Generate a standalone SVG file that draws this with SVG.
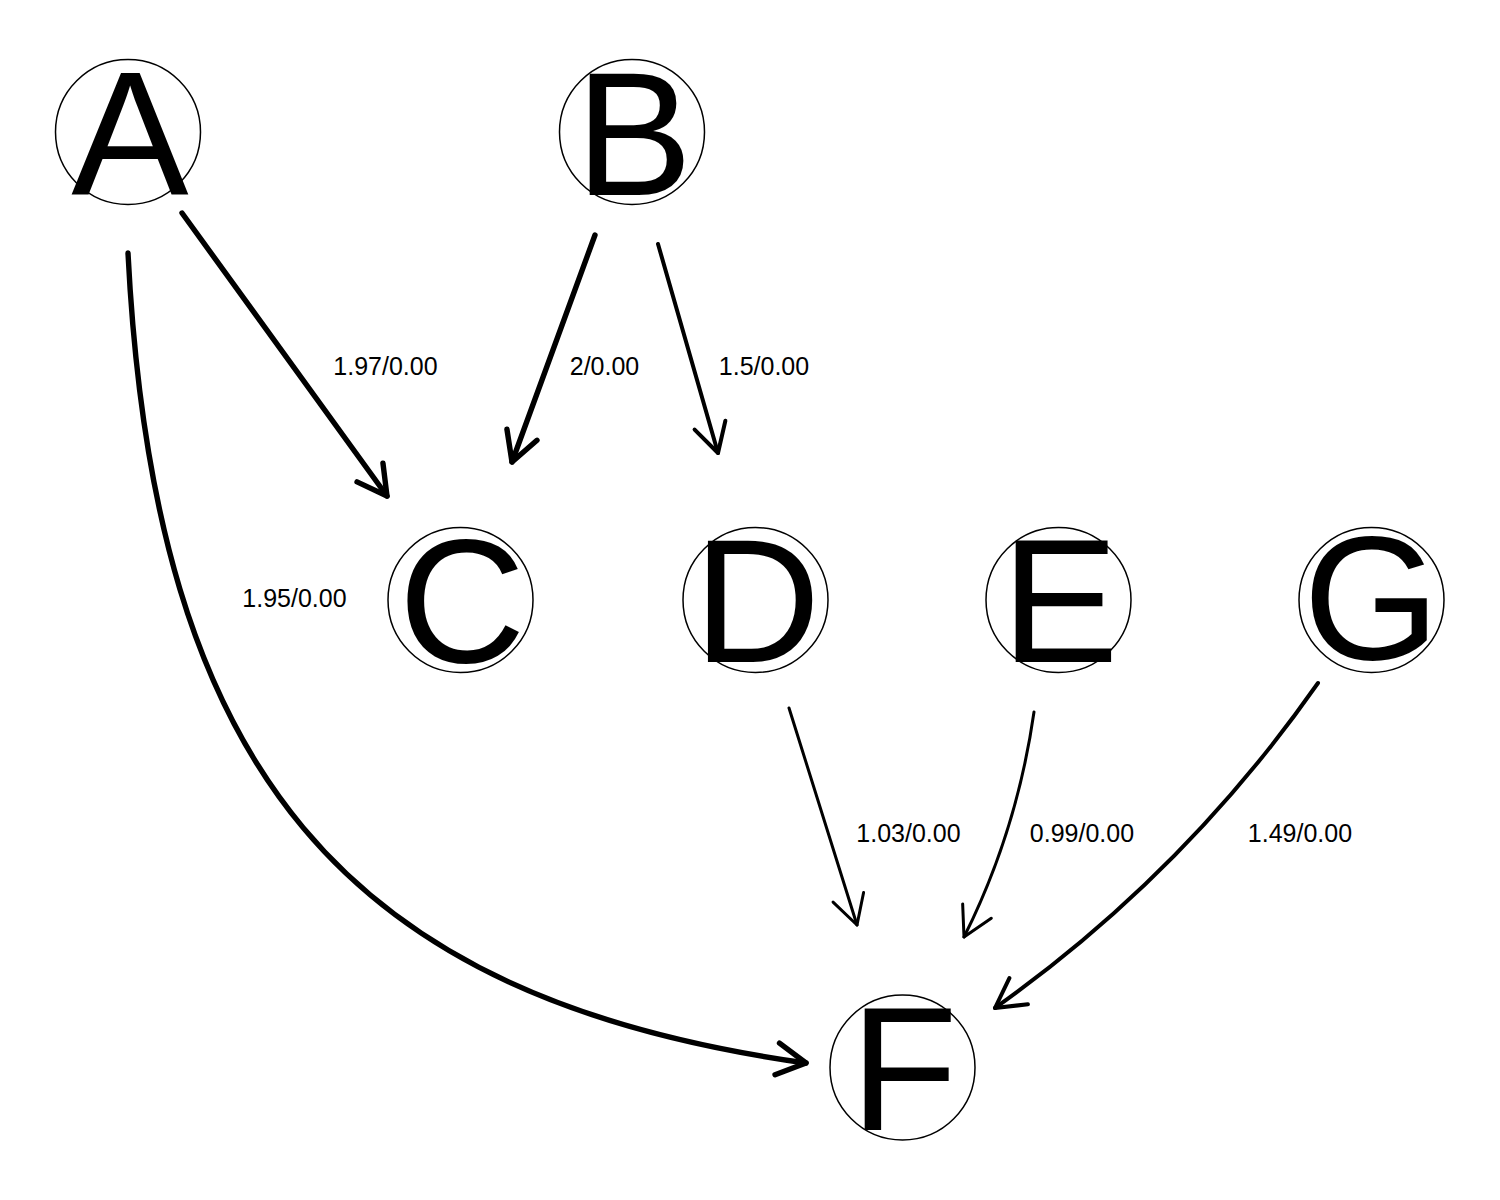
<svg xmlns="http://www.w3.org/2000/svg" width="1500" height="1200" viewBox="0 0 1500 1200">
<style>
.node circle{fill:none;stroke:#000;stroke-width:1.5}
.node text{font-family:"Liberation Sans",Arial,sans-serif;font-size:176px;text-anchor:middle;fill:#000}
.edge{fill:none;stroke:#000;stroke-linecap:round;stroke-linejoin:round}
.w5{stroke-width:5.4;marker-end:url(#ah5)}
.w4{stroke-width:4;marker-end:url(#ah4)}
.w3{stroke-width:3;marker-end:url(#ah3)}
.lbl{font-family:"Liberation Sans",Arial,sans-serif;font-size:25px;text-anchor:middle;fill:#000}
</style>
<defs>
<marker id="ah5" markerUnits="userSpaceOnUse" orient="auto" refX="0" refY="0" markerWidth="80" markerHeight="80" viewBox="-40 -40 80 80" overflow="visible">
<path d="M-29,-16 L0,0 L-29,16" fill="none" stroke="#000" stroke-width="5.4" stroke-linecap="round" stroke-linejoin="round"/>
</marker>
<marker id="ah4" markerUnits="userSpaceOnUse" orient="auto" refX="0" refY="0" markerWidth="80" markerHeight="80" viewBox="-40 -40 80 80" overflow="visible">
<path d="M-29,-16 L0,0 L-29,16" fill="none" stroke="#000" stroke-width="4" stroke-linecap="round" stroke-linejoin="round"/>
</marker>
<marker id="ah3" markerUnits="userSpaceOnUse" orient="auto" refX="0" refY="0" markerWidth="80" markerHeight="80" viewBox="-40 -40 80 80" overflow="visible">
<path d="M-29,-16 L0,0 L-29,16" fill="none" stroke="#000" stroke-width="3" stroke-linecap="round" stroke-linejoin="round"/>
</marker>
</defs>
<rect width="1500" height="1200" fill="#fff"/>
<g id="connectors">
<path class="edge w5" d="M182,213 L387,496"/>
<path class="edge w5" d="M595,235 L512,462"/>
<path class="edge w4" d="M658,244 L718,453"/>
<path class="edge w5" d="M128,253 C154,771 343.5,998 806,1063"/>
<path class="edge w3" d="M789,708 L857,925"/>
<path class="edge w3" d="M1034,712 Q1017,831 964,937"/>
<path class="edge w4" d="M1318,683 Q1184.6,873.4 995,1008"/>
<text class="lbl" x="385.5" y="375">1.97/0.00</text>
<text class="lbl" x="604.5" y="375">2/0.00</text>
<text class="lbl" x="764" y="375">1.5/0.00</text>
<text class="lbl" x="294.5" y="607">1.95/0.00</text>
<text class="lbl" x="908.5" y="842">1.03/0.00</text>
<text class="lbl" x="1082" y="842">0.99/0.00</text>
<text class="lbl" x="1300" y="842">1.49/0.00</text>
</g>
<g id="node-A" class="node"><circle cx="128" cy="132" r="72.5"/><text x="130" y="195">A</text></g>
<g id="node-B" class="node"><circle cx="632" cy="132" r="72.5"/><text x="634" y="195">B</text></g>
<g id="node-C" class="node"><circle cx="460.5" cy="600" r="72.5"/><text x="462" y="662">C</text></g>
<g id="node-D" class="node"><circle cx="755.5" cy="600" r="72.5"/><text x="757" y="662">D</text></g>
<g id="node-E" class="node"><circle cx="1058.5" cy="600" r="72.5"/><text x="1060" y="662">E</text></g>
<g id="node-G" class="node"><circle cx="1371.5" cy="600" r="72.5"/><text x="1371.5" y="659">G</text></g>
<g id="node-F" class="node"><circle cx="902.5" cy="1067.5" r="72.5"/><text x="904" y="1130">F</text></g>
</svg>
